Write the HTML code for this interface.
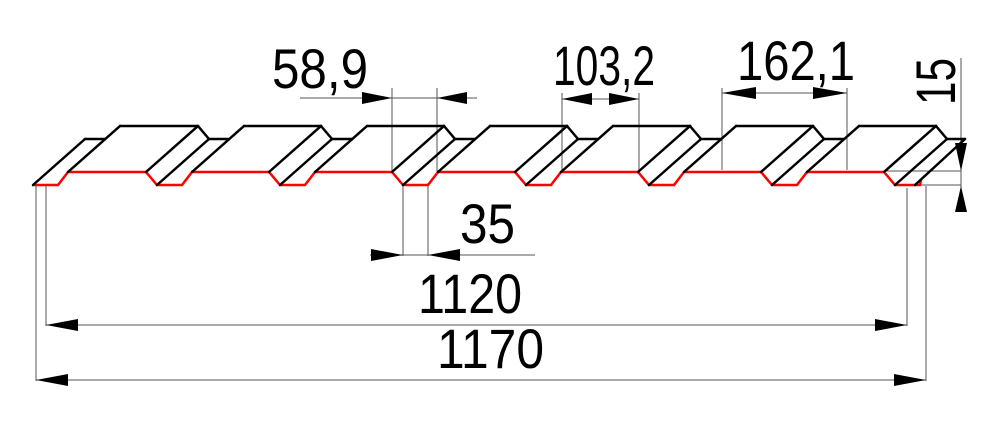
<!DOCTYPE html>
<html><head><meta charset="utf-8"><style>
html,body{margin:0;padding:0;background:#fff;}
svg{display:block;}
text{font-family:"Liberation Sans",sans-serif;font-size:56px;fill:#000;}
</style></head><body>
<svg id="dwg" width="1000" height="423" viewBox="0 0 1000 423" xmlns="http://www.w3.org/2000/svg">
<g id="dims" stroke="#555" stroke-width="1" fill="none">
  <line x1="392" y1="88" x2="392" y2="172"/><line x1="437" y1="88" x2="437" y2="172"/>
  <line x1="300" y1="98" x2="477" y2="98"/>
  <line x1="403" y1="186" x2="403" y2="256"/><line x1="428" y1="186" x2="428" y2="256"/>
  <line x1="370" y1="255" x2="535" y2="255"/>
  <line x1="562" y1="93" x2="562" y2="172"/><line x1="639" y1="93" x2="639" y2="172"/>
  <line x1="562" y1="99" x2="639" y2="99"/>
  <line x1="722" y1="88" x2="722" y2="170"/><line x1="847" y1="88" x2="847" y2="170"/>
  <line x1="722" y1="93" x2="847" y2="93"/>
  <line x1="961" y1="58" x2="961" y2="212"/>
  <line x1="885" y1="171" x2="961" y2="171"/><line x1="915" y1="185" x2="961" y2="185"/>
  <line x1="46" y1="186" x2="46" y2="326"/><line x1="907" y1="188" x2="907" y2="326"/>
  <line x1="46" y1="325" x2="907" y2="325"/>
  <line x1="36" y1="186" x2="36" y2="381"/><line x1="926" y1="186" x2="926" y2="381"/>
  <line x1="36" y1="380" x2="926" y2="380"/>
</g>
<g id="arrows" fill="#000">
  <polygon points="392,98 362,92 362,104"/><polygon points="437,98 467,92 467,104"/>
  <polygon points="403,255 371,249 371,261"/><polygon points="428,255 460,249 460,261"/>
  <polygon points="562,99 592,93 592,105"/><polygon points="639,99 609,93 609,105"/>
  <polygon points="722,93 756,87 756,99"/><polygon points="847,93 813,87 813,99"/>
  <polygon points="961,171 955,143 967,143"/><polygon points="961,186 955,212 967,212"/>
  <polygon points="46,325 78,319 78,331"/><polygon points="907,325 875,319 875,331"/>
  <polygon points="36,380 68,374 68,386"/><polygon points="926,380 894,374 894,386"/>
</g>
<g id="profile"></g>
<g>
  <text x="272" y="88" textLength="96" lengthAdjust="spacingAndGlyphs">58,9</text>
  <text x="553" y="85" textLength="102" lengthAdjust="spacingAndGlyphs">103,2</text>
  <text x="737" y="80" textLength="118" lengthAdjust="spacingAndGlyphs">162,1</text>
  <text x="460" y="243" textLength="55" lengthAdjust="spacingAndGlyphs">35</text>
  <text x="418" y="313" textLength="104" lengthAdjust="spacingAndGlyphs">1120</text>
  <text x="437" y="368" textLength="107" lengthAdjust="spacingAndGlyphs">1170</text>
  <text transform="translate(955,105) rotate(-90)" x="0" y="0" textLength="47" lengthAdjust="spacingAndGlyphs">15</text>
</g>
</svg>
<script>
const valleyStarts = [22, 146, 269, 392, 515, 638, 761, 884];
const dx = 52, dy = 46;
const yTop = 172, yBot = 185;
const NS = 'http://www.w3.org/2000/svg';
const g = document.getElementById('profile');
function line(x1,y1,x2,y2,col,name){
  const l=document.createElementNS(NS,'line');
  l.setAttribute('x1',x1);l.setAttribute('y1',y1);l.setAttribute('x2',x2);l.setAttribute('y2',y2);
  l.setAttribute('stroke',col);l.setAttribute('stroke-width','2.5');l.setAttribute('stroke-linecap','round');
  
  
  g.appendChild(l);
}
let pts=[];
valleyStarts.forEach((v,i)=>{
  if(i===0){pts.push([v+11,yBot],[v+36,yBot],[v+46,yTop]);}
  else if(i===valleyStarts.length-1){pts.push([v,yTop],[v+11,yBot],[v+36,yBot],[v+37,yBot-5]);}
  else pts.push([v,yTop],[v+11,yBot],[v+36,yBot],[v+46,yTop]);
});
const red=document.createElementNS(NS,'polyline');
red.setAttribute('points',pts.map(p=>p.join(',')).join(' '));
red.setAttribute('fill','none');red.setAttribute('stroke','#f00');red.setAttribute('stroke-width','2.5');


g.appendChild(red);
valleyStarts.forEach((v,i)=>{
  const last=i===valleyStarts.length-1;
  if(i>0){
    line(v,yTop,v+dx,yTop-dy,'#000','diagonal');
    line(v+dx,yTop-dy,v+dx+11,yBot-dy,'#000','back-slope');
  }
  line(v+11,yBot,v+11+dx,yBot-dy,'#000','diagonal');
  if(!last){
    line(v+11+dx,yBot-dy,v+83,yBot-dy,'#000','back-valley');
    line(v+46,yTop,v+46+dx,yTop-dy,'#000','diagonal');
    line(v+46+dx,yTop-dy,valleyStarts[i+1]+dx,yTop-dy,'#000','back-top');
  } else {
    line(v+11+dx,yBot-dy,965,yBot-dy,'#000','back-valley');
    line(v+31,yBot,965,yBot-dy,'#000','diagonal');
  }
});
</script>
</body></html>
